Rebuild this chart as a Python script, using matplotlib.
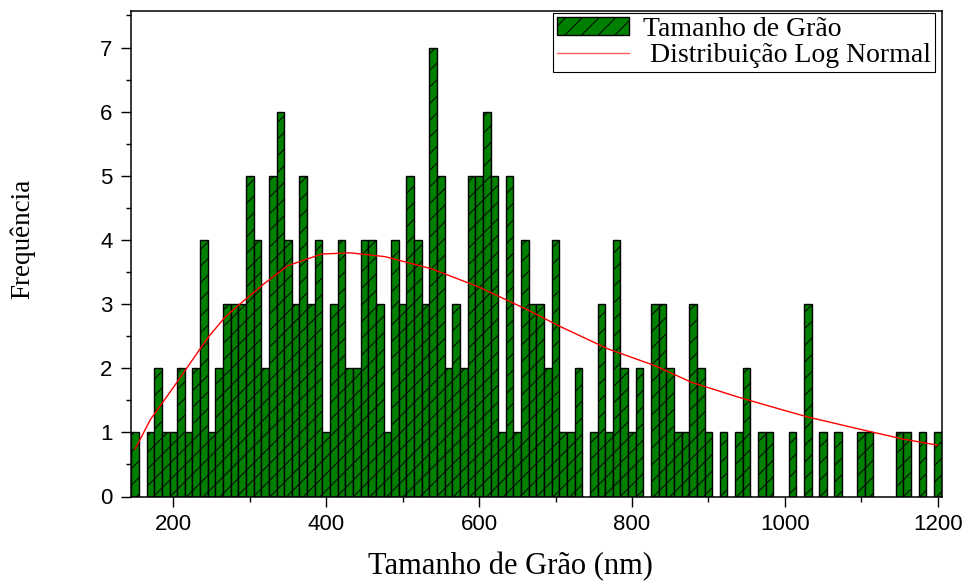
import matplotlib
matplotlib.use("Agg")
import matplotlib.pyplot as plt
from matplotlib.patches import Patch
from matplotlib.lines import Line2D
from matplotlib.ticker import MultipleLocator

# ---- data ----
bin_first_center = 150   # nm
bin_width = 10           # nm
counts = [1, 0, 1, 2, 1, 1, 2, 1, 2, 4,      # 150-240
          1, 2, 3, 3, 3, 5, 4, 2, 5, 6,      # 250-340
          4, 3, 5, 3, 4, 1, 3, 4, 2, 2,      # 350-440
          4, 4, 3, 1, 4, 3, 5, 4, 3, 7,      # 450-540
          5, 2, 3, 2, 5, 5, 6, 5, 1, 5,      # 550-640
          1, 4, 3, 3, 2, 4, 1, 1, 2, 0,      # 650-740
          1, 3, 1, 4, 2, 1, 2, 0, 3, 3,      # 750-840
          2, 1, 1, 3, 2, 1, 0, 1, 0, 1,      # 850-940
          2, 0, 1, 1, 0, 0, 1, 0, 3, 0,      # 950-1040
          1, 0, 1, 0, 0, 1, 1, 0, 0, 0,      # 1050-1140
          1, 1, 0, 1, 0, 1]                  # 1150-1200

fit_x = [150, 170, 200, 246, 268, 285, 320, 350, 394, 431, 477, 538, 599,
         660, 708, 769, 830, 878, 939, 1000, 1030, 1105, 1153, 1200]
fit_y = [0.74, 1.20, 1.70, 2.49, 2.80, 2.98, 3.33, 3.60, 3.78, 3.80, 3.74,
         3.55, 3.27, 2.93, 2.64, 2.30, 2.04, 1.78, 1.55, 1.34, 1.24, 1.03,
         0.90, 0.80]

x_major_ticks = [200, 400, 600, 800, 1000, 1200]
y_major_ticks = [0, 1, 2, 3, 4, 5, 6, 7]

bar_label = "Tamanho de Grão"
fit_label = " Distribuição Log Normal"
xlabel = "Tamanho de Grão (nm)"
ylabel = "Frequência"

# ---- figure ----
plt.rcParams['hatch.linewidth'] = 0.7
plt.rcParams['hatch.color'] = 'black'
serif = ['Liberation Serif', 'DejaVu Serif']
sans = ['Liberation Sans', 'DejaVu Sans']

fig = plt.figure(figsize=(9.67, 5.82), dpi=100)
ax = fig.add_axes([131.3 / 967, 1 - 496.5 / 582, (941.5 - 131.3) / 967, (496.5 - 11) / 582])

centers = [bin_first_center + i * bin_width for i in range(len(counts))]
xs = [c for c, n in zip(centers, counts) if n > 0]
hs = [n for n in counts if n > 0]
ax.bar(xs, hs, width=bin_width, color='#008000', edgecolor='black',
       linewidth=1.0, hatch='//', zorder=2)
ax.plot(fit_x, fit_y, color='red', lw=1.0, zorder=3)

ax.set_xlim(145, 1205)
ax.set_ylim(0, 7.57)
ax.set_xticks(x_major_ticks)
ax.set_yticks(y_major_ticks)
ax.xaxis.set_minor_locator(MultipleLocator(100))
ax.yaxis.set_minor_locator(MultipleLocator(0.5))
ax.tick_params(axis='both', which='major', direction='out', length=7.5, width=1.0,
               labelsize=16)
ax.tick_params(axis='both', which='minor', direction='out', length=3.6, width=1.0)
ax.tick_params(axis='x', which='major', pad=5)
ax.tick_params(axis='y', which='major', pad=6)
for lab in ax.get_xticklabels() + ax.get_yticklabels():
    lab.set_family(sans)
for s in ax.spines.values():
    s.set_linewidth(1.1)

fig.text(510 / 967, 1 - 567 / 582, xlabel, ha='center', va='center',
         family=serif, fontsize=22)
fig.text(22.5 / 967, 1 - 238.5 / 582, ylabel, ha='center', va='center',
         rotation=90, family=serif, fontsize=19.5)

handles = [Patch(facecolor='#008000', edgecolor='black', hatch='//', linewidth=1.0),
           Line2D([0], [0], color='#ff6060', lw=1.0)]
leg = ax.legend(handles, [bar_label, fit_label], loc='upper right',
                bbox_to_anchor=(935 / 967, 1 - 12.7 / 582), bbox_transform=fig.transFigure,
                borderaxespad=0, fancybox=False, frameon=True, framealpha=1,
                edgecolor='black', prop={'family': serif, 'size': 20},
                handlelength=2.6, handleheight=0.6, handletextpad=0.5,
                labelspacing=0.05, borderpad=0.15)
leg.get_frame().set_linewidth(0.8)

fig.savefig('out.png', dpi=100)
